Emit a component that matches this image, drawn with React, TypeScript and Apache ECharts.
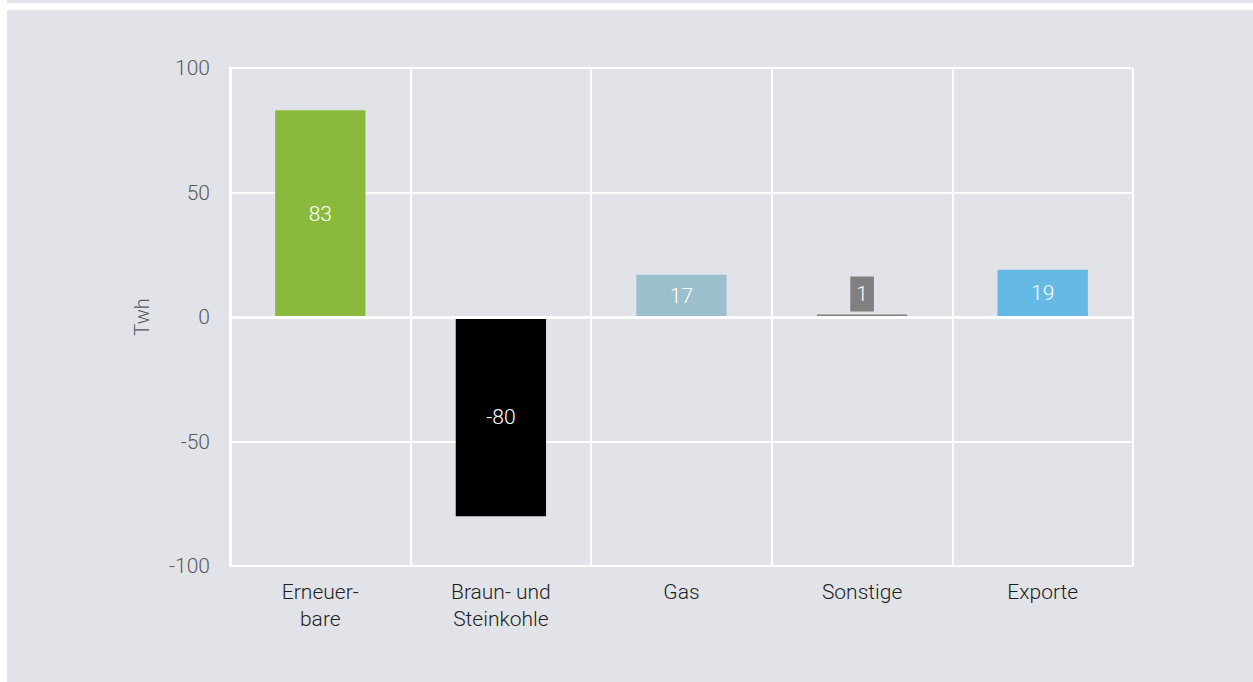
import React, { useEffect, useRef } from "react";
import * as echarts from "echarts";

const categories = ["Erneuer-\nbare", "Braun- und\nSteinkohle", "Gas", "Sonstige", "Exporte"];
const values = [83, -80, 17, 1, 19];
const colors = ["#8aba3c", "#000000", "#9cbfce", "#808080", "#64b9e5"];
const yTicks = { min: -100, max: 100, interval: 50 };
const yName = "Twh";

const FONT = "Roboto, 'Open Sans', sans-serif";
const BG = "#e2e3e8";

export default function App() {
  const ref = useRef<HTMLDivElement>(null);
  useEffect(() => {
    if (!ref.current) return;
    const chart = echarts.init(ref.current, undefined, { renderer: "svg" });
    chart.setOption({
      animation: false,
      backgroundColor: "transparent",
      textStyle: { fontFamily: FONT, fontWeight: 300 },
      grid: { left: 223, top: 58, right: 120, bottom: 116 },
      xAxis: {
        type: "category",
        data: categories,
        axisLine: { show: true, lineStyle: { color: "#ffffff", width: 3 } },
        axisTick: { show: false },
        axisLabel: {
          color: "#1e1e1e",
          fontSize: 21,
          lineHeight: 27,
          margin: 12,
          fontFamily: FONT,
          fontWeight: 300,
        },
        splitLine: { show: true, lineStyle: { color: "#ffffff", width: 2 } },
      },
      yAxis: {
        type: "value",
        min: yTicks.min,
        max: yTicks.max,
        interval: yTicks.interval,
        name: yName,
        nameLocation: "middle",
        nameGap: 78,
        nameRotate: 90,
        nameTextStyle: { color: "#5a5a5a", fontSize: 20, fontFamily: FONT, fontWeight: 300 },
        axisLine: { show: true, lineStyle: { color: "#ffffff", width: 3 } },
        axisTick: { show: false },
        axisLabel: {
          color: "#5a5a5a",
          fontSize: 21,
          margin: 20,
          fontFamily: FONT,
          fontWeight: 300,
          padding: [0, 0, 7, 0],
        },
        splitLine: { show: true, lineStyle: { color: "#ffffff", width: 2 } },
      },
      series: [
        {
          type: "bar",
          barWidth: "50%",
          data: values.map((v, i) => {
            const item: any = { value: v, itemStyle: { color: colors[i] } };
            if (i === 3) {
              item.label = {
                position: "top",
                distance: 3,
                backgroundColor: "#808080",
                padding: [7, 6, 7, 6],
              };
            }
            return item;
          }),
          label: {
            show: true,
            position: "inside",
            color: "#ffffff",
            fontSize: 21,
            fontFamily: FONT,
            fontWeight: 300,
          },
          markLine: {
            silent: true,
            symbol: "none",
            label: { show: false },
            lineStyle: { color: "#ffffff", width: 3, type: "solid" },
            data: [{ yAxis: 0 }],
            z: 10,
          },
        },
      ],
    });
    return () => chart.dispose();
  }, []);

  return (
    <div>
      <div
        style={{ position: "fixed", left: 7, top: 0, width: 1246, height: 3, background: BG }}
      />
      <div
        style={{ position: "fixed", left: 7, top: 10, width: 1246, height: 672, background: BG }}
      >
        <div ref={ref} style={{ width: 1246, height: 672 }} />
      </div>
    </div>
  );
}
